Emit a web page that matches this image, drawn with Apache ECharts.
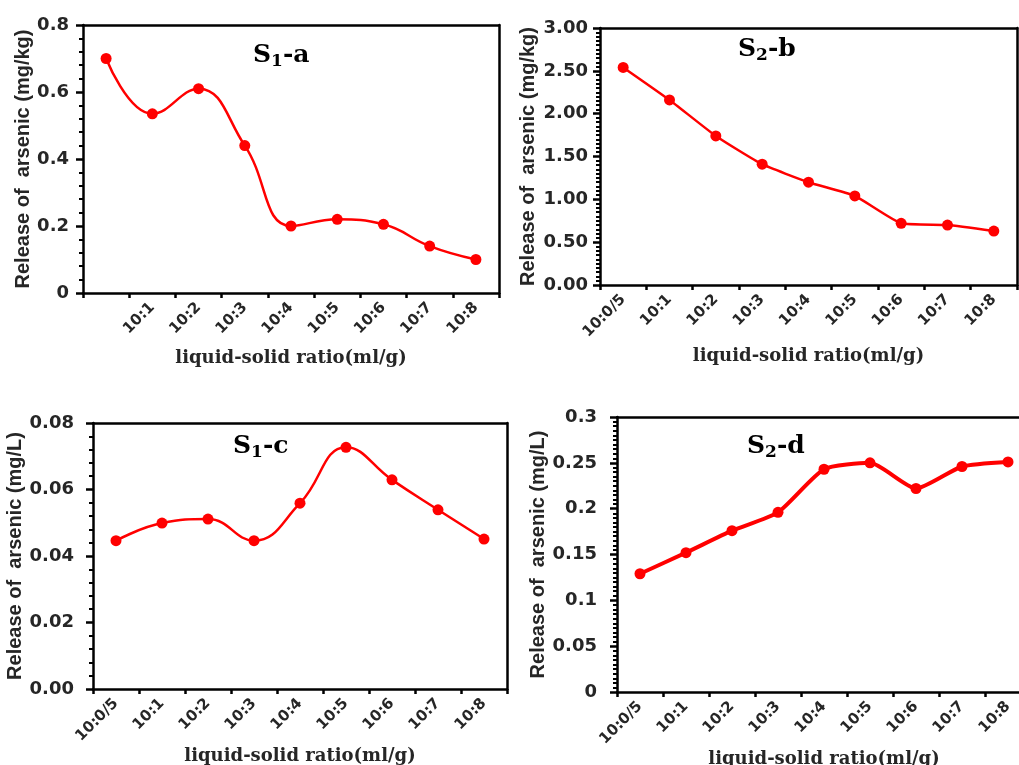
<!DOCTYPE html>
<html>
<head>
<meta charset="utf-8">
<script src="https://cdn.jsdelivr.net/npm/echarts@6/dist/echarts.min.js"></script>
<style>
  html, body { margin: 0; padding: 0; background: #fff; }
  #main { width: 1019px; height: 765px; }
</style>
</head>
<body>
<div id="main"></div>
<script>
// categories (first label of panel a is blank in the source)
var catsA = ["", "10:1", "10:2", "10:3", "10:4", "10:5", "10:6", "10:7", "10:8"];
var catsBCD = ["10:0/5", "10:1", "10:2", "10:3", "10:4", "10:5", "10:6", "10:7", "10:8"];

// series values
var valsA = [0.70, 0.535, 0.61, 0.44, 0.20, 0.22, 0.205, 0.14, 0.10];
var valsB = [2.54, 2.16, 1.74, 1.41, 1.20, 1.04, 0.72, 0.70, 0.63];
var valsC = [0.0446, 0.0499, 0.0511, 0.0446, 0.0559, 0.0727, 0.0629, 0.0539, 0.0451];
var valsD = [0.129, 0.152, 0.176, 0.196, 0.243, 0.250, 0.222, 0.246, 0.251];

// y axis ranges
var yMax = [0.8, 3, 0.08, 0.3];
var yStep = [0.2, 0.5, 0.02, 0.05];

var xName = "liquid-solid ratio(ml/g)";
var yNames = ["Release of  arsenic (mg/kg)", "Release of  arsenic (mg/kg)",
              "Release of  arsenic (mg/L)", "Release of  arsenic (mg/L)"];

var txt = "#262626";
var sans = "DejaVu Sans";
var serif = "DejaVu Serif";

// panel layout
var panels = [
  { left: 83, top: 25, width: 416, height: 268, cats: catsA, vals: valsA, smooth: 0.45, lw: 2.5,
    minor: 5, fmt: null, yGap: 50, xGap: 56, yMargin: 14, title: ["1", "-a"], tl: 253, tt: 40 },
  { left: 600, top: 28, width: 417, height: 257, cats: catsBCD, vals: valsB, smooth: 0.15, lw: 2.5,
    minor: 10, fmt: 2, yGap: 62, xGap: 62, yMargin: 12, title: ["2", "-b"], tl: 738, tt: 34 },
  { left: 93, top: 423, width: 414, height: 266, cats: catsBCD, vals: valsC, smooth: 0.45, lw: 2.5,
    minor: 5, fmt: 2, yGap: 62, xGap: 58, yMargin: 19, title: ["1", "-c"], tl: 233, tt: 431 },
  { left: 617, top: 417, width: 414, height: 275, cats: catsBCD, vals: valsD, smooth: 0.2, lw: 4,
    minor: 10, fmt: null, yGap: 69, xGap: 50, yMargin: 20, title: ["2", "-d"], tl: 747, tt: 431 }
];

var grids = [], xAxes = [], yAxes = [], series = [], titles = [];
var black = { color: "#000000", width: 2.5 };

panels.forEach(function (p, i) {
  grids.push({ left: p.left, top: p.top, width: p.width, height: p.height, outerBoundsMode: "none" });
  xAxes.push({
    type: "category", gridIndex: i, data: p.cats, boundaryGap: true, position: "bottom",
    name: xName, nameLocation: "middle", nameGap: p.xGap,
    nameTextStyle: { fontFamily: serif, fontWeight: "bold", fontSize: 18, color: txt },
    axisLine: { show: true, onZero: false, lineStyle: black },
    axisTick: { show: true, length: 5, lineStyle: black },
    axisLabel: { rotate: 45, margin: 12, interval: 0, fontFamily: sans, fontWeight: "bold",
                 fontSize: 15, color: txt },
    splitLine: { show: false }
  });
  yAxes.push({
    type: "value", gridIndex: i, min: 0, max: yMax[i], interval: yStep[i], position: "left",
    name: yNames[i], nameLocation: "middle", nameGap: p.yGap,
    nameTextStyle: { fontFamily: "Liberation Sans", fontWeight: "bold", fontSize: 20, color: txt },
    axisLine: { show: true, onZero: false, lineStyle: black },
    axisTick: { show: true, length: 7, lineStyle: black },
    minorTick: { show: true, splitNumber: p.minor, length: 4, lineStyle: { color: "#000000", width: 2 } },
    axisLabel: {
      margin: p.yMargin, fontFamily: sans, fontWeight: "bold", fontSize: 18, color: txt,
      formatter: p.fmt ? function (v) { return v.toFixed(p.fmt); } : null
    },
    splitLine: { show: false }
  });
  series.push({
    type: "line", xAxisIndex: i, yAxisIndex: i, data: p.vals,
    smooth: p.smooth, symbol: "circle", symbolSize: 11,
    lineStyle: { color: "#ff0000", width: p.lw },
    itemStyle: { color: "#ff0000" }
  });
  titles.push({
    left: p.tl, top: p.tt, padding: 0,
    text: "{s|S}{sub|" + p.title[0] + "}{s|" + p.title[1] + "}",
    textStyle: {
      rich: {
        s: { fontFamily: serif, fontWeight: "bold", fontSize: 25, color: "#000", lineHeight: 30 },
        sub: { fontFamily: serif, fontWeight: "bold", fontSize: 17, color: "#000", lineHeight: 6,
               verticalAlign: "bottom" }
      }
    }
  });
});

// top and right frame lines of every panel, as extra axes without labels
panels.forEach(function (p, i) {
  xAxes.push({
    type: "category", gridIndex: i, data: p.cats, position: "top",
    axisLine: { show: true, onZero: false, lineStyle: black },
    axisTick: { show: false }, axisLabel: { show: false }, splitLine: { show: false }
  });
  yAxes.push({
    type: "value", gridIndex: i, min: 0, max: yMax[i], position: "right",
    axisLine: { show: true, onZero: false, lineStyle: black },
    axisTick: { show: false }, axisLabel: { show: false }, splitLine: { show: false }
  });
});

var chart = echarts.init(document.getElementById("main"));
chart.setOption({
  backgroundColor: "#fff",
  animation: false,
  title: titles,
  grid: grids,
  xAxis: xAxes,
  yAxis: yAxes,
  series: series
});
</script>
</body>
</html>
